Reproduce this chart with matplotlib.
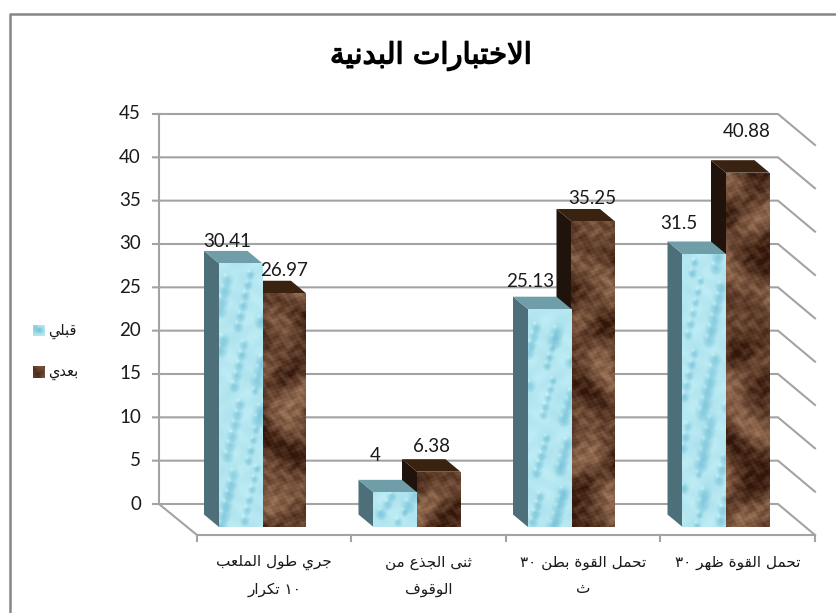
import numpy as np
import matplotlib
matplotlib.use('Agg')
import matplotlib.pyplot as plt
import matplotlib.patheffects as pe

title = "الاختبارات البدنية"
categories = ["جري طول الملعب\n١٠ تكرار", "ثنى الجذع من\nالوقوف", "تحمل القوة بطن ٣٠\nث", "تحمل القوة ظهر ٣٠"]
series_names = ["قبلي", "بعدي"]
before = [30.41, 4, 25.13, 31.5]
after = [26.97, 6.38, 35.25, 40.88]
y_ticks = [0, 5, 10, 15, 20, 25, 30, 35, 40, 45]

# label nudges in pixels, from the top centre of each bar
before_nudge = [(-14, 22), (-20, 37), (-20, 28), (-25, 30)]
after_nudge = [(0, 23), (-7, 25), (-1, 23), (-1, 41)]

# arabic has to be shaped by hand, matplotlib does not join or reverse it
four = {'ب': 0xFE8F, 'ت': 0xFE95, 'ث': 0xFE99, 'ج': 0xFE9D, 'ح': 0xFEA1, 'خ': 0xFEA5, 'ط': 0xFEC1,
        'ظ': 0xFEC5, 'ع': 0xFEC9, 'ف': 0xFED1, 'ق': 0xFED5, 'ك': 0xFED9, 'ل': 0xFEDD, 'م': 0xFEE1,
        'ن': 0xFEE5, 'ه': 0xFEE9, 'ي': 0xFEF1}
two = {'ا': 0xFE8D, 'ة': 0xFE93, 'د': 0xFEA9, 'ذ': 0xFEAB, 'ر': 0xFEAD, 'و': 0xFEED, 'ى': 0xFEEF}

def shape_line(s):
    s = s.replace('لا', '\uf000')
    out = []
    for i, c in enumerate(s):
        prev = s[i-1] if i > 0 else ' '
        nxt = s[i+1] if i < len(s)-1 else ' '
        joined_prev = prev in four
        joined_next = nxt in four or nxt in two or nxt == '\uf000'
        if c == '\uf000':
            out.append(chr(0xFEFC if joined_prev else 0xFEFB))
        elif c in four:
            form = {(0, 0): 0, (1, 0): 1, (0, 1): 2, (1, 1): 3}[(int(joined_prev), int(joined_next))]
            out.append(chr(four[c] + form))
        elif c in two:
            out.append(chr(two[c] + int(joined_prev)))
        else:
            out.append(c)
    # reverse for drawing, digit runs stay in reading order
    res = []
    run = ''
    for c in reversed(out):
        if c in '٠١٢٣٤٥٦٧٨٩':
            run = c + run
        else:
            res.append(run)
            run = ''
            res.append(c)
    res.append(run)
    return ''.join(res)

def ar(s):
    return '\n'.join(shape_line(l) for l in s.split('\n'))

def water(w, h, phase):
    yy, xx = np.mgrid[0:h, 0:w].astype(float)
    v = np.full((h, w), 0.78)
    v += 0.07*np.sin(xx/5.3 + phase + 2*np.sin(yy/11.0)) * np.sin(yy/6.1 + phase*2)
    # droplets, fixed spots from golden ratio steps
    for k in range(int(h*w/260) + 2):
        cx = ((k + phase*3)*0.618 % 1) * w
        cy = ((k + phase*5)*0.7549 % 1) * h
        r = 4.5 + 4.5*((k*0.381) % 1)
        d = np.hypot((xx-cx)/r, (yy-cy)/(r*1.25))
        shade = np.clip(1-d, 0, 1) * (0.5 + 0.5*(yy-cy)/(r*1.25))
        v -= 0.9*np.clip(shade, 0, 1)
        v += 0.25*np.exp(-((xx-cx+r*0.3)**2 + (yy-cy+r*0.5)**2)/3.0)
    v = np.clip(v, 0, 1)[..., None]
    return np.array([0.40, 0.72, 0.82])*(1-v) + np.array([0.80, 0.96, 0.98])*v

def marble(w, h, phase):
    yy, xx = np.mgrid[0:h, 0:w].astype(float)
    xx = xx + phase*37
    yy = yy + phase*61
    v = 0.33 + 0.16*np.sin(xx/13.0 + 3*np.sin(yy/23.0)) + 0.13*np.sin(yy/17.0 + 2.5*np.cos(xx/19.0))
    v += 0.06*np.sin(xx/2.3 + 1.7*np.sin(yy/3.1)) + 0.06*np.sin(yy/1.9 + 1.3*np.sin(xx/2.7))
    v += 0.05*np.sin(xx*0.83 + yy*0.47)*np.sin(yy*1.13 - xx*0.29)
    v = np.clip(v, 0, 1)[..., None]
    return np.array([0.20, 0.09, 0.04])*(1-v) + np.array([0.78, 0.60, 0.47])*v

W, H = 837, 613
PX, PY = 154.5, 8.667  # pixels per category, per value
X0, Y0 = 262.5, 527    # pixel of category 0 and of value 0 at bar front

fig = plt.figure(figsize=(8.37, 6.13), dpi=100)
ax = fig.add_axes([0, 0, 1, 1])
ax.set_xlim(-X0/PX, (W-X0)/PX)
ax.set_ylim((Y0-H)/PY, Y0/PY)
ax.axis('off')

def px(x):
    return (x-X0)/PX

def py(y):
    return (Y0-y)/PY

grid = '#a3a3a3'
txt = '#1a1a1a'
lw = 1.5

# chart frame, only left and top show in the picture
ax.plot([px(10), px(10), px(837)], [py(613), py(14), py(14)], color='#868686', lw=1.8, zorder=1)

# walls
wall_l, wall_r = px(159), px(778)
floor_l, floor_r = px(197), px(815)
for v in y_ticks:
    yb = py(504) + v
    ax.plot([px(153), wall_l, wall_r, floor_r], [yb, yb, yb, yb + py(535) - py(504)], color=grid, lw=lw, zorder=2)
    ax.text(px(141), yb, str(v), ha='right', va='center', fontsize=13.5, family='Lato', color=txt)
ax.plot([wall_l, wall_l], [py(504), py(114)], color=grid, lw=lw, zorder=2)
ax.plot([wall_l, floor_l, floor_r], [py(504), py(535), py(535)], color=grid, lw=lw, zorder=2)
for i in range(5):
    ax.plot([floor_l + i, floor_l + i], [py(535), py(541)], color=grid, lw=lw, zorder=2)

# bars, after goes first so before covers its side
w = 43.5 / PX
dx = 15 / PX
dy = 12.5 / PY
x = np.arange(len(categories))

def draw(xs, vals, tex, top_c, side_c, nudges, z):
    bars = ax.bar(xs, vals, width=w, color=top_c, zorder=z+0.2, linewidth=0)
    for i, (b, v) in enumerate(zip(bars, vals)):
        l = b.get_x()
        r = l + w
        ax.fill([l, l-dx, l-dx, l], [0, dy, v+dy, v], color=side_c, lw=0, zorder=z)
        ax.fill([l, r, r-dx, l-dx], [v, v, v+dy, v+dy], color=top_c, lw=0, zorder=z+0.1)
        nx = max(int(round(w*PX)), 2)
        ny = max(int(round(v*PY)), 2)
        im = ax.imshow(tex(nx, ny, i+1), extent=[l, r, 0, v], aspect='auto', zorder=z+0.3, interpolation='bilinear')
        im.set_clip_path(b)
        ax.annotate(str(v), (l + w/2, v), xytext=nudges[i], textcoords='offset pixels', ha='center', va='center',
                    fontsize=13.5, family='Lato', color=txt, zorder=20)

draw(x + w/2, after, marble, '#3a2211', '#20130b', after_nudge, 5)
draw(x - w/2, before, water, '#6f9ea8', '#4c6f79', before_nudge, 8)

# category labels
for i, c in enumerate(categories):
    ax.text(floor_l + i + 0.5, py(555), ar(c), ha='center', va='top', fontsize=11, family='DejaVu Sans',
            color=txt, linespacing=1.95)

ax.text(px(431), py(56), ar(title), ha='center', va='center', fontsize=21, family='DejaVu Sans', color='black',
        path_effects=[pe.withStroke(linewidth=1.0, foreground='black')])

# legend
for name, tex, ypix in [(series_names[0], water, 331), (series_names[1], marble, 372)]:
    ax.imshow(tex(11, 11, 3), extent=[px(33), px(44), py(ypix+5.5), py(ypix-5.5)], aspect='auto', zorder=10)
    ax.text(px(48), py(ypix), ar(name), ha='left', va='center', fontsize=10.5, family='DejaVu Sans', color=txt)
ax.set_xlim(-X0/PX, (W-X0)/PX)
ax.set_ylim((Y0-H)/PY, Y0/PY)

fig.savefig('out.png', dpi=100)
